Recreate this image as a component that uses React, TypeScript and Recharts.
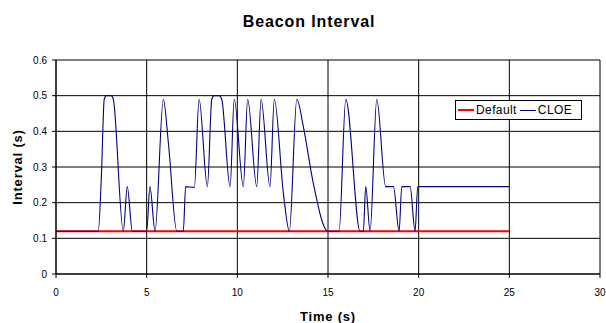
import { LineChart, Line, XAxis, YAxis, CartesianGrid, Label } from "recharts";

// CLOE beacon interval samples (time in s, interval in s)
const cloeTime = [
  0, 2.33, 2.5, 2.66, 2.78, 3.04, 3.16, 3.71, 3.93, 4.21, 5.0, 5.18, 5.46, 5.92, 6.2, 6.66,
  7.02, 7.15, 7.63, 7.89, 8.35, 8.59, 8.72, 9.0, 9.14, 9.6, 9.83, 10.33, 10.57, 11.07, 11.31,
  11.8, 12.04, 12.54, 12.87, 13.28, 13.64, 14.19, 14.99, 15.61, 15.98, 16.77, 16.95, 17.08,
  17.32, 17.69, 18.18, 18.61, 18.92, 19.07, 19.53, 19.8, 19.95, 25.0,
];
const cloeInterval = [
  0.12, 0.12, 0.27, 0.49, 0.5, 0.5, 0.49, 0.12, 0.245, 0.12, 0.12, 0.245, 0.12, 0.49, 0.366, 0.12,
  0.12, 0.245, 0.243, 0.49, 0.245, 0.49, 0.5, 0.5, 0.49, 0.245, 0.49, 0.245, 0.49, 0.245, 0.49,
  0.245, 0.49, 0.226, 0.12, 0.49, 0.413, 0.254, 0.12, 0.12, 0.49, 0.12, 0.12, 0.245,
  0.12, 0.49, 0.245, 0.245, 0.12, 0.245, 0.245, 0.12, 0.245, 0.245,
];

// Default (fixed) beacon interval
const defaultTime = [0, 25];
const defaultInterval = [0.12, 0.12];

const xTicks = [0, 5, 10, 15, 20, 25, 30];
const yTicks = [0, 0.1, 0.2, 0.3, 0.4, 0.5, 0.6];

const seriesNames = ["Default", "CLOE"];
const seriesColors = ["#ff0000", "#000080"];
const seriesWidths = [2, 1.1];

const cloeData = cloeTime.map((t, i) => ({ t, v: cloeInterval[i] }));
const defaultData = defaultTime.map((t, i) => ({ t, v: defaultInterval[i] }));

const FONT = "'Liberation Sans', Arial, sans-serif";

export default function App() {
  return (
    <div style={{ position: "absolute", left: 0, top: 0, width: 606, height: 323, background: "#fff" }}>
      <div
        style={{
          position: "absolute",
          top: 13,
          left: 0,
          width: 618,
          textAlign: "center",
          fontFamily: FONT,
          fontWeight: "bold",
          fontSize: 16,
          letterSpacing: 0.9,
        }}
      >
        Beacon Interval
      </div>
      <LineChart width={606} height={323} margin={{ top: 60, right: 6, left: 0, bottom: 0 }}>
        <CartesianGrid stroke="#000" strokeWidth={1} />
        <XAxis
          type="number"
          dataKey="t"
          domain={[0, 30]}
          ticks={xTicks}
          interval={0}
          height={49}
          stroke="#000"
          tickSize={4}
          tickMargin={11}
          tick={{ fontSize: 10, fill: "#000", fontFamily: FONT }}
        >
          <Label
            value="Time (s)"
            position="insideBottom"
            offset={2}
            style={{ fontSize: 13, fontWeight: "bold", fill: "#000", fontFamily: FONT, letterSpacing: 0.8 }}
          />
        </XAxis>
        <YAxis
          type="number"
          domain={[0, 0.6]}
          ticks={yTicks}
          interval={0}
          width={56}
          stroke="#000"
          tickSize={4}
          tickMargin={5}
          tick={{ fontSize: 10, fill: "#000", fontFamily: FONT }}
        >
          <Label
            content={({ viewBox }: any) => {
              const cx = viewBox.x + viewBox.width - 39;
              const cy = viewBox.y + viewBox.height / 2;
              return (
                <text
                  x={cx}
                  y={cy}
                  transform={`rotate(-90 ${cx} ${cy})`}
                  textAnchor="middle"
                  dominantBaseline="central"
                  style={{ fontSize: 13, fontWeight: "bold", fill: "#000", fontFamily: FONT, letterSpacing: 0.8 }}
                >
                  Interval (s)
                </text>
              );
            }}
          />
        </YAxis>
        <Line
          data={defaultData}
          dataKey="v"
          name={seriesNames[0]}
          type="linear"
          stroke={seriesColors[0]}
          strokeWidth={seriesWidths[0]}
          dot={false}
          isAnimationActive={false}
        />
        <Line
          data={cloeData}
          dataKey="v"
          name={seriesNames[1]}
          type="monotone"
          stroke={seriesColors[1]}
          strokeWidth={seriesWidths[1]}
          dot={false}
          isAnimationActive={false}
        />
      </LineChart>
      <div
        style={{
          position: "absolute",
          left: 455,
          top: 100,
          width: 127,
          height: 20,
          display: "flex",
          alignItems: "center",
          border: "1px solid #000",
          background: "#fff",
          padding: "0 2px",
          fontFamily: FONT,
          fontSize: 12,
          letterSpacing: 0.4,
          color: "#000",
          boxSizing: "border-box",
        }}
      >
        {seriesNames.map((name, i) => (
          <span key={name} style={{ display: "flex", alignItems: "center", marginRight: 3 }}>
            <span
              style={{
                display: "inline-block",
                width: 16,
                height: Math.round(seriesWidths[i]),
                background: seriesColors[i],
                marginRight: 2,
              }}
            />
            {name}
          </span>
        ))}
      </div>
    </div>
  );
}
